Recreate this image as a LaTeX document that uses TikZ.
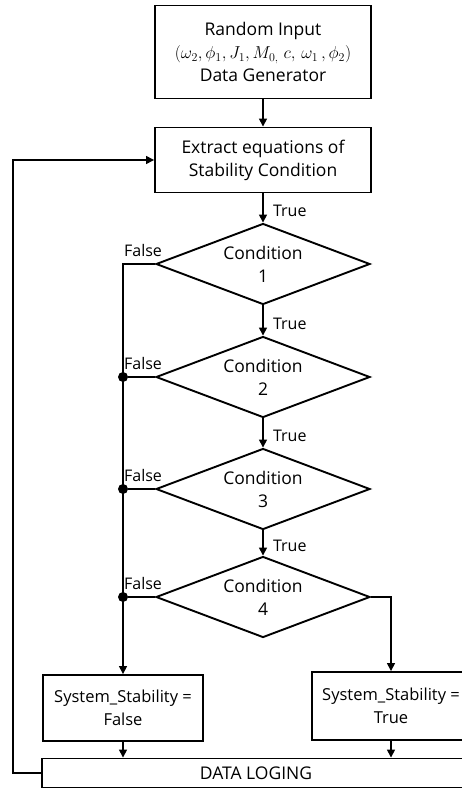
\documentclass[tikz,border=0pt]{standalone}
\usepackage{fontspec}
\setmainfont{Open Sans}
\usetikzlibrary{shapes.geometric,arrows.meta}
\tikzset{
	block/.style={draw, line width=1.9pt, align=center, inner sep=2pt},
	cond/.style={draw, diamond, line width=1.9pt, align=center, inner sep=0pt, shape aspect=2.6, minimum width=214pt, minimum height=81pt},
	link/.style={line width=1.5pt},
	flow/.style={link, -{Triangle[length=8pt,width=8pt]}},
	lbl/.style={font=\fontsize{16}{18}\selectfont},
	joint/.style={circle, fill, inner sep=0pt, minimum size=10pt},
}

\begin{document}
\begin{tikzpicture}[x=1pt, y=-1pt, font=\fontsize{17.5}{23}\selectfont]
	\useasboundingbox (0,0) rectangle (461,789);

	\node[block, minimum width=216pt, minimum height=93pt] (input) at (263,52)
		{Random Input\\$(\omega_2,\phi_1,J_1,M_{0,}\;c,\,\omega_1\,,\phi_2)$\\Data Generator};
	\node[block, minimum width=216pt, minimum height=65pt] (extract) at (263,160)
		{Extract equations of\\Stability Condition};
	\node[cond] (c1) at (263,264) {Condition\\1};
	\node[cond] (c2) at (263,377) {Condition\\2};
	\node[cond] (c3) at (263,489) {Condition\\3};
	\node[cond] (c4) at (263,597) {Condition\\4};
	\node[block, minimum width=160pt, minimum height=66pt, font=\fontsize{16.5}{23}\selectfont] (sfalse) at (123,708) {System\_Stability =\\False};
	\node[block, minimum width=158pt, minimum height=68pt, font=\fontsize{16.5}{23}\selectfont] (strue) at (391,706) {System\_Stability =\\True};
	\node[block, minimum width=428pt, minimum height=29pt, inner sep=0pt] (log) at (256,773) {DATA LOGING};

	\coordinate (fb) at (13,773);
	\node[joint] (j2) at (123,377) {};
	\node[joint] (j3) at (123,489) {};
	\node[joint] (j4) at (123,597) {};

	\draw[flow] (input) -- (extract);
	\draw[flow] (extract) -- (c1) node[lbl, midway, right, xshift=6pt, yshift=-3pt] {True};
	\draw[flow] (c1) -- (c2) node[lbl, midway, right, xshift=6pt, yshift=-3pt] {True};
	\draw[flow] (c2) -- (c3) node[lbl, midway, right, xshift=6pt, yshift=-3pt] {True};
	\draw[flow] (c3) -- (c4) node[lbl, midway, right, xshift=6pt, yshift=-3pt] {True};

	% false branch
	\draw[flow] (c1.west) -| (sfalse.north);
	\draw[link] (c2.west) -- (j2);
	\draw[link] (c3.west) -- (j3);
	\draw[link] (c4.west) -- (j4);
	\foreach \i in {1,...,4}
		\node[lbl] at ([xshift=-12pt, yshift=14pt]c\i.west) {False};

	\draw[flow] (c4.east) -| (strue.north);
	\draw[flow] (sfalse.south) -- (sfalse.south |- log.north);
	\draw[flow] (strue.south) -- (strue.south |- log.north);

	% back to the start
	\draw[flow] (log.west) -- (fb) |- (extract.west);
\end{tikzpicture}
\end{document}
